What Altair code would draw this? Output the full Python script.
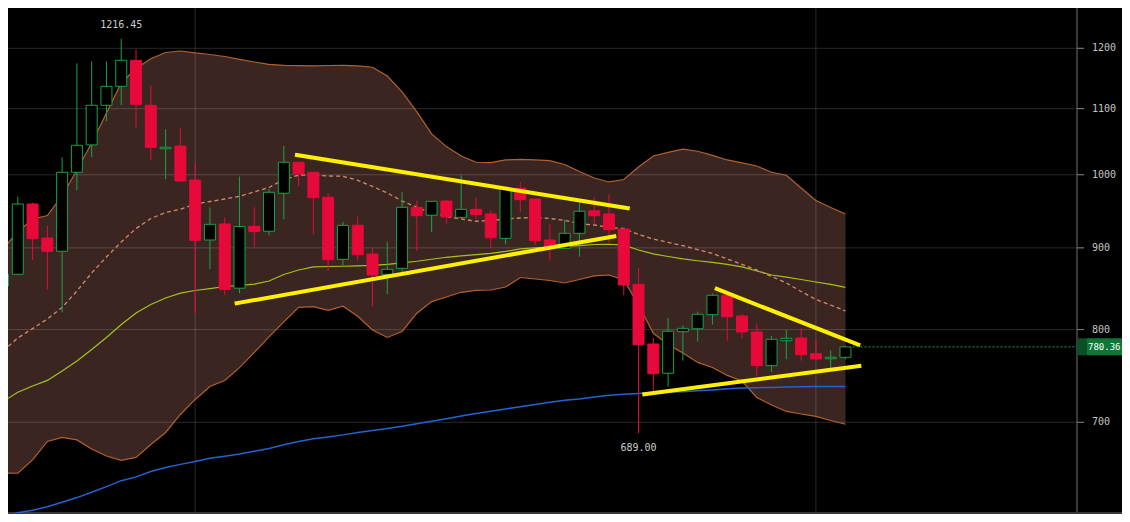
import altair as alt
import pandas as pd

# ---- candle data ----
opens = [851.9, 866.4, 958.8, 912.9, 895.6, 1003.6, 1044.0, 1105.3, 1136.0, 1179.4,
         1105.3, 1038.2, 1042.3, 992.5, 910.3, 931.5, 849.2, 928.4, 921.8, 973.7,
         1018.2, 1003.6, 968.2, 885.3, 929.8, 892.1, 866.4, 873.9, 954.2, 943.3,
         962.9, 940.5, 951.4, 945.1, 912.5, 980.7, 965.7, 910.3, 899.4, 919.1,
         949.4, 945.1, 924.8, 854.0, 783.6, 751.2, 797.6, 801.0, 817.4, 840.6,
         815.9, 797.3, 759.5, 787.3, 790.4, 772.7, 767.1, 768.7]
highs = [879.0, 968.9, 960.6, 929.2, 1025.5, 1174.3, 1177.7, 1177.7, 1216.45, 1198.2,
         1137.7, 1067.7, 1069.3, 1018.2, 954.2, 940.5, 997.5, 954.2, 979.7, 1042.3,
         1018.2, 1003.6, 973.7, 934.2, 941.4, 900.5, 908.1, 975.1, 963.4, 962.5,
         964.3, 999.2, 967.5, 950.1, 980.1, 989.3, 965.7, 931.1, 937.8, 961.6,
         968.5, 972.3, 925.5, 873.9, 790.4, 813.5, 805.3, 821.0, 842.5, 841.0,
         817.9, 807.3, 792.7, 799.6, 801.5, 788.1, 776.5, 782.1]
lows = [843.0, 865.1, 884.5, 847.8, 820.2, 977.9, 1025.5, 1080.2, 1105.3, 1070.8,
        1021.2, 993.4, 990.0, 819.1, 872.6, 840.6, 843.0, 900.8, 916.2, 937.8,
        984.0, 917.8, 870.5, 877.4, 883.6, 827.7, 841.8, 868.4, 896.0, 920.5,
        931.1, 940.5, 938.6, 899.4, 904.7, 947.4, 903.4, 883.6, 899.4, 888.6,
        931.1, 907.0, 840.6, 689.0, 731.2, 736.8, 765.0, 786.2, 805.7, 787.3,
        790.0, 748.6, 752.9, 766.5, 765.0, 766.0, 756.2, 766.5]
closes = [866.4, 958.8, 912.0, 895.6, 1003.6, 1043.4, 1105.3, 1136.0, 1179.4, 1106.9,
          1040.4, 1040.4, 991.1, 909.9, 931.1, 847.8, 928.2, 921.3, 975.1, 1018.2,
          1001.5, 967.5, 884.8, 929.7, 891.2, 865.5, 872.6, 954.2, 942.7, 962.5,
          941.0, 951.4, 944.1, 913.3, 980.1, 964.7, 909.4, 900.8, 919.1, 948.8,
          942.7, 923.9, 853.1, 782.8, 750.8, 798.1, 801.5, 817.9, 840.6, 815.0,
          797.3, 759.5, 788.9, 790.0, 771.6, 766.8, 768.7, 780.36]

# ---- indicators ----
bb_upper = [898.6, 920.9, 938.3, 943.0, 969.9, 1006.9, 1046.9, 1093.2, 1141.5, 1165.5,
            1182.1, 1192.7, 1195.3, 1191.9, 1189.3, 1185.9, 1180.8, 1176.5, 1172.6, 1170.9,
            1170.2, 1169.8, 1170.6, 1170.9, 1169.8, 1167.6, 1153.0, 1126.8, 1094.8, 1060.6,
            1041.4, 1027.5, 1018.2, 1017.6, 1021.6, 1022.3, 1021.6, 1020.6, 1015.0, 1004.7,
            995.4, 989.7, 993.2, 1011.3, 1027.5, 1032.7, 1037.5, 1034.5, 1028.3, 1021.6,
            1017.2, 1012.8, 1003.6, 999.3, 981.1, 963.6, 954.0, 945.1]
bb_mid = [775.8, 790.4, 801.1, 812.4, 826.0, 845.8, 868.1, 888.3, 907.7, 925.5,
          938.9, 947.1, 951.5, 958.8, 962.2, 965.7, 969.5, 975.5, 981.9, 993.2,
          999.3, 999.7, 998.3, 997.9, 992.1, 983.3, 974.1, 962.9, 954.4, 946.4,
          941.7, 938.3, 935.2, 936.2, 938.3, 939.6, 940.3, 938.9, 936.5, 931.5,
          930.2, 926.9, 925.5, 917.6, 911.6, 907.1, 902.9, 897.9, 892.8, 885.8,
          878.8, 871.8, 863.7, 855.6, 845.2, 835.5, 828.9, 821.8]
bb_lower = [650.7, 650.4, 663.0, 680.9, 684.9, 682.4, 673.6, 666.8, 662.7, 665.4,
            678.0, 689.8, 707.9, 723.4, 737.1, 743.5, 757.3, 774.1, 791.6, 808.9,
            826.0, 826.9, 822.4, 827.4, 815.6, 799.6, 791.0, 797.9, 819.1, 832.9,
            838.5, 844.2, 846.6, 847.0, 850.6, 862.4, 860.5, 858.7, 855.6, 859.9,
            864.3, 865.5, 859.3, 829.0, 795.8, 783.1, 773.6, 763.1, 757.5, 748.9,
            742.9, 725.5, 717.7, 711.0, 708.4, 705.9, 701.8, 698.0]
ma_yellow = [721.3, 731.0, 737.6, 743.5, 753.7, 764.7, 777.5, 791.0, 806.0, 819.5,
             829.5, 837.3, 843.1, 846.4, 848.7, 851.3, 852.5, 854.1, 858.1, 866.2,
             871.8, 875.6, 876.2, 876.5, 876.9, 877.5, 878.8, 880.7, 882.8, 885.4,
             887.9, 889.6, 891.3, 892.8, 895.4, 898.6, 900.2, 901.0, 901.8, 902.9,
             904.4, 904.7, 903.5, 897.3, 892.2, 888.9, 885.8, 883.5, 881.3, 878.8,
             875.6, 870.5, 865.5, 862.8, 859.9, 856.8, 853.8, 850.3]
ma_blue = [611.6, 614.4, 616.7, 619.7, 623.8, 628.0, 632.8, 638.0, 643.5, 647.0,
           652.0, 655.8, 658.8, 661.6, 664.6, 666.6, 668.7, 671.4, 674.1, 677.7,
           680.8, 683.5, 685.3, 687.4, 689.7, 691.8, 693.8, 695.9, 698.5, 701.0,
           703.6, 706.4, 709.0, 711.3, 713.5, 715.9, 718.2, 720.4, 722.6, 723.9,
           725.9, 727.7, 728.8, 729.7, 730.7, 731.1, 731.5, 732.4, 733.4, 734.7,
           735.4, 735.7, 736.1, 736.4, 736.7, 737.0, 737.0, 737.0]

# ---- trend lines drawn on the chart (index, price) ----
trend_x1 = [19.89, 15.81, 48.29, 43.39]
trend_y1 = [1028.9, 831.0, 848.3, 728.8]
trend_x2 = [42.27, 41.36, 57.87, 57.94]
trend_y2 = [952.9, 915.2, 782.8, 759.1]

y_ticks = [700, 800, 900, 1000, 1100, 1200]
y_tick_labels = ["700", "800", "900", "1000", "1100", "1200"]
v_grid = [13, 55]

RED = "#e8093b"
GREEN = "#17a348"
BAND_EDGE = "#b3612e"
MONO = "DejaVu Sans Mono"

W, H = 1069, 505

n = len(opens)
df = pd.DataFrame({
    "i": list(range(n)), "open": opens, "high": highs, "low": lows, "close": closes,
    "bb_upper": bb_upper, "bb_mid": bb_mid, "bb_lower": bb_lower,
    "ma_yellow": ma_yellow, "ma_blue": ma_blue,
})
df["dir"] = ["up" if c >= o else "down" for o, c in zip(opens, closes)]

xs = alt.Scale(domain=[0.338, 72.665], nice=False, zero=False, padding=0)
ys = alt.Scale(type="log", domain=[614.2, 1271.7], nice=False, zero=False, padding=0)

def X(f="i"):
    return alt.X(f"{f}:Q", scale=xs, axis=None)

def Y(f):
    return alt.Y(f"{f}:Q", scale=ys, axis=None)

base = alt.Chart(df)

band = base.mark_area(color="#3b2521", clip=True).encode(
    x=X(), y=Y("bb_upper"), y2="bb_lower:Q")

tick_df = pd.DataFrame({"v": y_ticks, "t": y_tick_labels})
grid_h = alt.Chart(tick_df).mark_rule(color="#ffffff", opacity=0.16, strokeWidth=1).encode(y=Y("v"))
grid_v = alt.Chart(pd.DataFrame({"g": v_grid})).mark_rule(
    color="#ffffff", opacity=0.16, strokeWidth=1).encode(x=X("g"))

# price axis on the right, drawn by hand
axis_line = alt.Chart(tick_df).mark_rule(color="#3a3a3a", strokeWidth=1).encode(
    x=alt.value(W), y=alt.value(0), y2=alt.value(H + 1))
bottom_line = alt.Chart(tick_df).mark_rule(color="#3a3a3a", strokeWidth=1).encode(
    x=alt.value(0), x2=alt.value(W + 45), y=alt.value(H))
axis_ticks = alt.Chart(tick_df).mark_rule(color="#8a8a8a", strokeWidth=1).encode(
    x=alt.value(W), x2=alt.value(W + 7), y=Y("v"))
axis_labels = alt.Chart(tick_df).mark_text(
    align="left", baseline="middle", font=MONO, fontSize=10, color="#c4c4c4").encode(
    x=alt.value(W + 15), y=Y("v"), text="t:N")

upper_line = base.mark_line(color=BAND_EDGE, strokeWidth=1.2, clip=True).encode(x=X(), y=Y("bb_upper"))
lower_line = base.mark_line(color=BAND_EDGE, strokeWidth=1.2, clip=True).encode(x=X(), y=Y("bb_lower"))
mid_line = base.mark_line(color="#d4896f", strokeWidth=1.3, strokeDash=[4, 3], clip=True).encode(
    x=X(), y=Y("bb_mid"))
yel_line = base.mark_line(color="#a6c21c", strokeWidth=1.2, clip=True).encode(x=X(), y=Y("ma_yellow"))
blue_line = base.mark_line(color="#2164d2", strokeWidth=1.5, clip=True).encode(x=X(), y=Y("ma_blue"))

dir_scale_stroke = alt.Scale(domain=["up", "down"], range=[GREEN, RED])
dir_scale_fill = alt.Scale(domain=["up", "down"], range=["#000000", RED])

wicks = base.mark_rule(strokeWidth=1, clip=True).encode(
    x=X(), y=Y("low"), y2="high:Q",
    color=alt.Color("dir:N", scale=dir_scale_stroke, legend=None),
)
bodies = base.mark_bar(width=11, strokeWidth=1, clip=True).encode(
    x=X(), y=Y("open"), y2="close:Q",
    fill=alt.Fill("dir:N", scale=dir_scale_fill, legend=None),
    stroke=alt.Stroke("dir:N", scale=dir_scale_stroke, legend=None),
)

tdf = pd.DataFrame({"x1": trend_x1, "y1": trend_y1, "x2": trend_x2, "y2": trend_y2})
trends = alt.Chart(tdf).mark_rule(color="#fff000", strokeWidth=4, strokeCap="square", clip=True).encode(
    x=X("x1"), x2="x2:Q", y=Y("y1"), y2="y2:Q")

last = pd.DataFrame({"i": [n - 1], "close": [closes[-1]], "label": [f"{closes[-1]:.2f}"]})
price_line = alt.Chart(last).mark_rule(color="#22a552", strokeDash=[2, 2], strokeWidth=1, xOffset=7).encode(
    x=X(), x2=alt.value(W), y=Y("close"))
box_dark = alt.Chart(last).mark_rect(color="#0b4f25", yOffset=-8.5, y2Offset=8.5).encode(
    x=alt.value(W), x2=alt.value(W + 10), y=Y("close"), y2="close:Q")
box = alt.Chart(last).mark_rect(color="#0e7636", yOffset=-8.5, y2Offset=8.5).encode(
    x=alt.value(W + 10), x2=alt.value(W + 45), y=Y("close"), y2="close:Q")
box_text = alt.Chart(last).mark_text(align="left", baseline="middle", font=MONO,
                                     fontSize=9, color="#ffffff").encode(
    x=alt.value(W + 11), y=Y("close"), text="label:N")

hi_i = highs.index(max(highs))
lo_i = lows.index(min(lows))
ann_hi = alt.Chart(pd.DataFrame({"i": [hi_i], "p": [highs[hi_i]], "t": [f"{highs[hi_i]:.2f}"]})).mark_text(
    dy=-14, font=MONO, fontSize=10, color="#cccccc").encode(x=X(), y=Y("p"), text="t:N")
ann_lo = alt.Chart(pd.DataFrame({"i": [lo_i], "p": [lows[lo_i]], "t": [f"{lows[lo_i]:.2f}"]})).mark_text(
    dy=15, font=MONO, fontSize=10, color="#cccccc").encode(x=X(), y=Y("p"), text="t:N")

chart = alt.layer(
    band, grid_h, grid_v, axis_line, bottom_line, axis_ticks, axis_labels,
    upper_line, lower_line, blue_line, yel_line, mid_line,
    wicks, bodies, trends, price_line, box_dark, box, box_text, ann_hi, ann_lo,
).properties(
    width=W, height=H,
    autosize=alt.AutoSizeParams(type="none"),
    padding={"left": 0, "top": 0, "right": 45, "bottom": 1},
).configure(background="#000000").configure_view(strokeWidth=0)

chart.save("out.html", embed_options={"renderer": "svg", "actions": False})
